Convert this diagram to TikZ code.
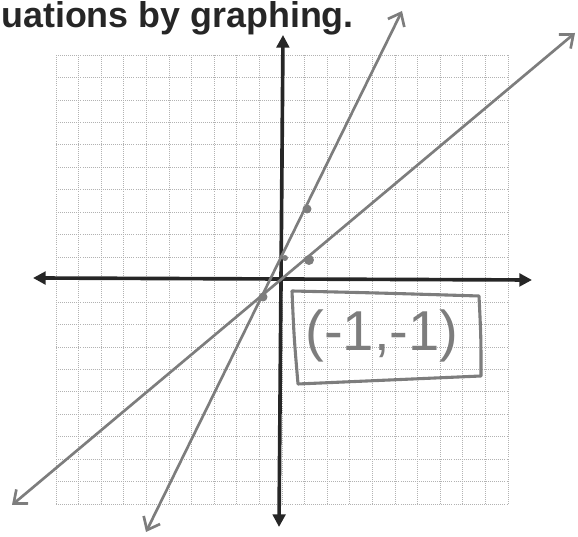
\documentclass[tikz,border=0pt]{standalone}
\usepackage{fontspec}
\setmainfont{Liberation Sans}
\usepackage{tikz}
\usetikzlibrary{arrows.meta}
\definecolor{InkBlack}{RGB}{38, 38, 38}
\definecolor{PencilGray}{RGB}{125, 125, 125}
\definecolor{GridGray}{RGB}{178, 178, 178}

\tikzset{
  gridline/.style={GridGray, line width=0.45pt, densely dotted},
  axisline/.style={InkBlack, line width=2.6pt,
    {Triangle[length=9pt,width=9pt]}-{Triangle[length=9pt,width=9pt]}},
  pencil/.style={PencilGray, line width=1.9pt, line cap=round, line join=round},
  pencilarrow/.style={pencil,
    {Straight Barb[length=8pt,width=13pt]}-{Straight Barb[length=8pt,width=13pt]}},
  pencildot/.style={fill=PencilGray, draw=none}
}

\begin{document}
\begin{tikzpicture}[x=0.25mm,y=0.25mm]
  \path[use as bounding box] (0,0) rectangle (578,537);

  % graph paper
  \foreach \i in {0,...,20}{
    \draw[gridline] ({56+22.6*\i},33) -- ({56+22.6*\i},482);
    \draw[gridline] (56,{33+22.45*\i}) -- (508,{33+22.45*\i});
  }

  \node[anchor=base west, inner sep=0, text=InkBlack,
        font=\fontsize{25.5}{30}\selectfont\bfseries] (title) at (1,509) {uations by graphing.};

  % axes
  \coordinate (xleft) at (33,259);
  \coordinate (xright) at (532,257);
  \coordinate (ytop) at (283,502);
  \coordinate (ybottom) at (279,10);
  \draw[axisline] (xleft) -- (xright);
  \draw[axisline] (ybottom) -- (ytop);

  % the two lines, in pencil
  \coordinate (steeplow) at (146,5);
  \coordinate (steephigh) at (402,526);
  \coordinate (flatlow) at (12,32);
  \coordinate (flathigh) at (575,504);
  \draw[pencilarrow] (steeplow) -- (steephigh);
  \draw[pencilarrow] (flatlow) -- (flathigh);

  \fill[pencildot] (307,328) circle (4.5);
  \fill[pencildot] (309,277) circle (5);
  \fill[pencildot] (263,240) circle (4.5);
  \fill[pencildot] (285,279) circle (3);

  % answer box
  \draw[pencil, line width=2.2pt] (292,246) .. controls (380,244) .. (479,241)
    .. controls (481,200) .. (481,161)
    .. controls (390,157) .. (298,153)
    .. controls (294,200) .. (292,246);
  \node[text=PencilGray, inner sep=0, font=\fontsize{40}{44}\selectfont] (answer) at (382,201) {(-1,-1)};
\end{tikzpicture}
\end{document}
